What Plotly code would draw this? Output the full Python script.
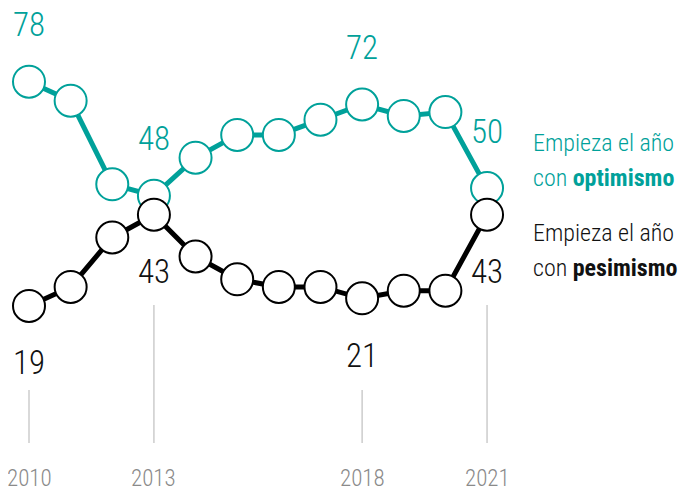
import plotly.graph_objects as go

years = list(range(2010, 2022))
optimismo = [78, 73, 51, 48, 58, 64, 64, 68, 72, 69, 70, 50]
pesimismo = [19, 24, 37, 43, 32, 26, 24, 24, 21, 23, 23, 43]
tick_years = [2010, 2013, 2018, 2021]
tick_labels = ["2010", "2013", "2018", "2021"]

TEAL = "#00A19A"
FONT = "Roboto Condensed, DejaVu Sans Condensed, sans-serif"

W, H = 683, 480          # page body has an 8px margin
PX_YR = 41.64
PX_UNIT = 3.8
x0 = 2010 - 21 / PX_YR
x1 = x0 + W / PX_YR
ytop = 78 + 73.7 / PX_UNIT
ybot = ytop - H / PX_UNIT


def yval(px):
    return ytop - px / PX_UNIT


grid_top_px = [382, 297, 382, 297]
grid_bot_px = 435

fig = go.Figure()
for vals, col in [(optimismo, TEAL), (pesimismo, "#000000")]:
    fig.add_trace(go.Scatter(
        x=years, y=vals, mode="lines+markers",
        line=dict(color=col, width=5),
        marker=dict(size=32, color="white", line=dict(color=col, width=2)),
        hoverinfo="skip", showlegend=False,
    ))

annotations = []
for yr in tick_years:
    i = years.index(yr)
    annotations.append(dict(x=yr, y=optimismo[i], text=str(optimismo[i]), showarrow=False,
                            yshift=57, font=dict(family=FONT, size=33, weight=300, color=TEAL)))
    annotations.append(dict(x=yr, y=pesimismo[i], text=str(pesimismo[i]), showarrow=False,
                            yshift=-57, font=dict(family=FONT, size=33, weight=300, color="#111111")))

for yr, lab in zip(tick_years, tick_labels):
    annotations.append(dict(x=yr, y=yval(470), text=lab, showarrow=False,
                            font=dict(family=FONT, size=23, weight=300, color="#8a8a8a")))

legend_lines = [
    ("Empieza el año", 143, TEAL),
    ("con <b>optimismo</b>", 178, TEAL),
    ("Empieza el año", 233, "#111111"),
    ("con <b>pesimismo</b>", 268, "#111111"),
]
for txt, ypx, col in legend_lines:
    annotations.append(dict(xref="paper", yref="paper", x=(531 - 8) / W, y=1 - (ypx - 8) / H,
                            xanchor="left", yanchor="middle", text=txt, showarrow=False,
                            font=dict(family=FONT, size=24, weight=300, color=col)))

shapes = []
for yr, top in zip(tick_years, grid_top_px):
    shapes.append(dict(type="line", x0=yr, x1=yr, y0=yval(top), y1=yval(grid_bot_px),
                       xref="x", yref="y", line=dict(color="#cccccc", width=1.5), layer="below"))

fig.update_layout(
    width=W, height=H,
    margin=dict(l=0, r=0, t=0, b=0),
    paper_bgcolor="white", plot_bgcolor="white",
    xaxis=dict(range=[x0, x1], visible=False, fixedrange=True),
    yaxis=dict(range=[ybot, ytop], visible=False, fixedrange=True),
    annotations=annotations, shapes=shapes,
    font=dict(family=FONT),
)
fig.write_html("out.html")
